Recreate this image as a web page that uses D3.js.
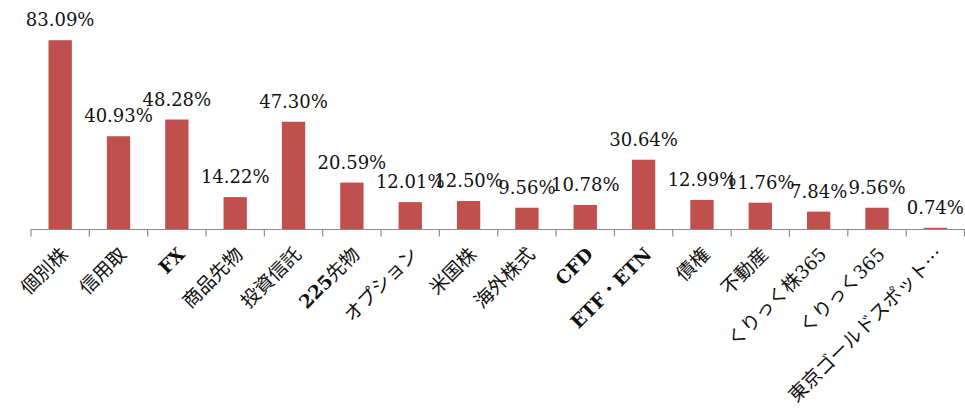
<!DOCTYPE html>
<html>
<head>
<meta charset="utf-8">
<script src="https://cdn.jsdelivr.net/npm/d3@7/dist/d3.min.js"></script>
<style>
  html, body { margin: 0; padding: 0; background: #ffffff; }
  svg { display: block; }
</style>
</head>
<body>
<div id="chart"></div>
<script>
const categories = ["個別株", "信用取", "FX", "商品先物", "投資信託", "225先物", "オプション", "米国株", "海外株式", "CFD", "ETF・ETN", "債権", "不動産", "くりっく株365", "くりっく365", "東京ゴールドスポット…"];
const values = [83.09, 40.93, 48.28, 14.22, 47.30, 20.59, 12.01, 12.50, 9.56, 10.78, 30.64, 12.99, 11.76, 7.84, 9.56, 0.74];

const W = 965, H = 412;
const svg = d3.select("#chart").append("svg").attr("width", W).attr("height", H);

const baseY = 229.5;
const x = d3.scaleBand().domain(categories).range([31, 964.5]).paddingInner(0.6).paddingOuter(0.3);
const y = d3.scaleLinear().domain([0, 90]).range([baseY, baseY - 90 * 2.278]);

const band = x.step();

// bars
svg.selectAll("rect.bar").data(values).join("rect")
  .attr("class", "bar")
  .attr("x", (d, i) => x(categories[i]))
  .attr("y", d => y(d))
  .attr("width", x.bandwidth())
  .attr("height", d => baseY - y(d))
  .attr("fill", "#C0504D");

// axis line
svg.append("line")
  .attr("x1", 31).attr("x2", W).attr("y1", baseY).attr("y2", baseY)
  .attr("stroke", "#8c8c8c").attr("stroke-width", 1.2);

// tick marks at band boundaries
const boundaries = d3.range(categories.length + 1).map(i => 31 + i * band);
svg.selectAll("line.tick").data(boundaries).join("line")
  .attr("class", "tick")
  .attr("x1", d => d).attr("x2", d => d)
  .attr("y1", baseY).attr("y2", baseY + 7)
  .attr("stroke", "#8c8c8c").attr("stroke-width", 1.2);

// value labels
svg.selectAll("text.val").data(values).join("text")
  .attr("class", "val")
  .attr("x", (d, i) => x(categories[i]) + x.bandwidth() / 2)
  .attr("y", d => y(d) - 14)
  .attr("text-anchor", "middle")
  .attr("font-family", "'DejaVu Serif', 'Liberation Serif', serif")
  .attr("font-size", 18)
  .attr("fill", "#111")
  .text(d => d.toFixed(2) + "%");

// category labels
const lab = svg.selectAll("text.cat").data(categories).join("text")
  .attr("class", "cat")
  .attr("text-anchor", "end")
  .attr("font-family", "'DejaVu Serif', 'Noto Sans CJK JP', serif")
  .attr("font-size", 19)
  .attr("fill", "#111")
  .attr("transform", d => `translate(${x(d) + x.bandwidth() / 2 + 9},${baseY + 26}) rotate(-45)`);

lab.each(function(d) {
  const startsAscii = /^[A-Za-z0-9]/.test(d);
  const runs = d.match(/[A-Za-z0-9]+|[^A-Za-z0-9]+/g);
  const t = d3.select(this);
  runs.forEach(r => {
    const ascii = /^[A-Za-z0-9]/.test(r);
    t.append("tspan")
      .attr("font-family", ascii ? "'DejaVu Serif', serif" : "'Noto Sans CJK JP', sans-serif")
      .attr("font-weight", ascii && startsAscii ? "bold" : "normal")
      .attr("font-size", ascii ? 18.5 : 19)
      .text(r);
  });
});
</script>
</body>
</html>
